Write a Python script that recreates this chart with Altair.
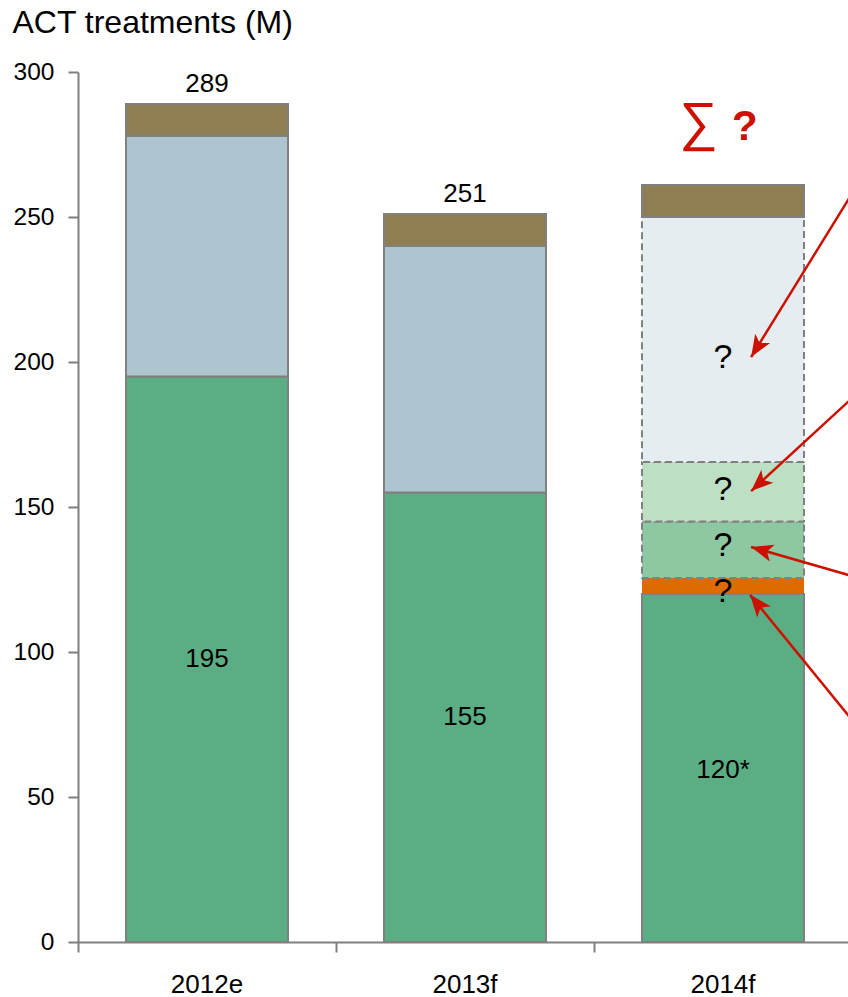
import math
import altair as alt
import pandas as pd

FONT = "Liberation Sans"
GRAY = "#808080"
RED = "#CC1100"

# ---- data ----
categories = ["2012e", "2013f", "2014f"]

seg_cat = ["2012e", "2012e", "2012e",
           "2013f", "2013f", "2013f",
           "2014f", "2014f", "2014f", "2014f", "2014f", "2014f"]
seg_bottom = [0, 195, 278,
              0, 155, 240,
              0, 120, 125.5, 145, 165.5, 250]
seg_top = [195, 278, 289,
           155, 240, 251,
           120, 125.5, 145, 165.5, 250, 261]
seg_color = ["#5BAE84", "#ADC5CE", "#8E7E52",
             "#5BAE84", "#ADC5CE", "#8E7E52",
             "#5BAE84", "#DD6B00", "#8DC8A3", "#BDE0C5", "#E5EDF1", "#8E7E52"]
seg_style = ["solid", "solid", "solid",
             "solid", "solid", "solid",
             "solid", "none", "dashed", "dashed", "dashed", "solid"]

inner_cat = ["2012e", "2013f", "2014f"]
inner_text = ["195", "155", "120*"]
inner_y = [97.5, 77.5, 59.3]

total_cat = ["2012e", "2013f"]
total_val = [289, 251]

q_y = [201.4, 155.9, 136.6, 120.7]

# arrows (x in category units, y in data units)
arrow_tip_x = [2.609, 2.609, 2.609, 2.605]
arrow_tip_y = [201.7, 155.5, 136.2, 119.7]
arrow_tail_x = [3.05, 3.05, 3.05, 3.05]
arrow_tail_y = [265.3, 191.6, 124.9, 71.1]

sum_x = [2.405, 2.585]
sum_y = [276.6, 276.6]

# ---- layout constants ----
PLOT_W = 770
RANGE_W = 774
PLOT_H = 870
PX_X = RANGE_W / 3.0
PX_Y = PLOT_H / 300.0

df_seg = pd.DataFrame(dict(cat=seg_cat, bottom=seg_bottom, top=seg_top,
                           color=seg_color, style=seg_style))
df_inner = pd.DataFrame(dict(cat=inner_cat, label=inner_text, ly=inner_y))
df_total = pd.DataFrame(dict(cat=total_cat, ly=total_val,
                             label=[str(v) for v in total_val]))
df_q = pd.DataFrame(dict(cat=["2014f"] * len(q_y), ly=q_y, label=["?"] * len(q_y)))

angles = []
for tx, ty, sx, sy in zip(arrow_tip_x, arrow_tip_y, arrow_tail_x, arrow_tail_y):
    dx = (tx - sx) * PX_X
    dy = -(ty - sy) * PX_Y
    a = math.degrees(math.atan2(dx, -dy)) % 360
    angles.append(a)
df_arrow = pd.DataFrame(dict(tip_x=arrow_tip_x, tip_y=arrow_tip_y,
                             tail_x=arrow_tail_x, tail_y=arrow_tail_y, ang=angles))
df_sum = pd.DataFrame(dict(sx=sum_x, sy=sum_y, t=["∑", "?"]))

yscale = alt.Scale(domain=[0, 300], nice=False)
yaxis = alt.Axis(values=list(range(0, 301, 50)), title="ACT treatments (M)",
                 titleAngle=0, titleAlign="left", titleBaseline="alphabetic",
                 titleX=-66, titleY=-40, titleFontSize=32, titleFontWeight="normal",
                 titleFont=FONT, titleColor="black",
                 labelFontSize=24.5, labelFont=FONT, labelColor="black", labelPadding=14,
                 tickSize=10, tickColor=GRAY, tickWidth=2,
                 domainColor=GRAY, domainWidth=2, grid=False)

xscale_band = alt.Scale(domain=categories, range=[0, RANGE_W],
                        paddingInner=0.372, paddingOuter=0.186)
xaxis_band = alt.Axis(title=None, orient="bottom", labelAngle=0, domain=False,
                      ticks=False, labelFontSize=26, labelFont=FONT,
                      labelColor="black", labelPadding=29, grid=False)
Xb = alt.X("cat:N", scale=xscale_band, axis=xaxis_band)

xscale_q = alt.Scale(domain=[0, 3], range=[0, RANGE_W], nice=False, zero=False)
xaxis_q = alt.Axis(title=None, orient="bottom", values=[0, 1, 2, 3], labels=False,
                   ticks=True, tickSize=10, tickColor=GRAY, tickWidth=2,
                   domain=True, domainColor=GRAY, domainWidth=2, grid=False)


def bars(style, **kw):
    return (alt.Chart(df_seg)
            .transform_filter(alt.datum.style == style)
            .mark_bar(**kw)
            .encode(x=Xb,
                    y=alt.Y("bottom:Q", scale=yscale, axis=yaxis),
                    y2="top:Q",
                    color=alt.Color("color:N", scale=None)))


bars_none = bars("none", strokeWidth=0)
bars_dash = bars("dashed", stroke=GRAY, strokeWidth=2, strokeDash=[7, 4])
bars_solid = bars("solid", stroke=GRAY, strokeWidth=2)


def texts(df, size=26, **kw):
    return (alt.Chart(df)
            .mark_text(font=FONT, fontSize=size, color="black", **kw)
            .encode(x=Xb,
                    y=alt.Y("ly:Q", scale=yscale, axis=yaxis),
                    text="label:N"))


t_inner = texts(df_inner, baseline="middle")
t_total = texts(df_total, baseline="alphabetic", dy=-12)
t_q = texts(df_q, size=34, baseline="middle")

inner = alt.layer(bars_none, bars_dash, bars_solid, t_inner, t_total, t_q)

arrow_lines = (alt.Chart(df_arrow)
               .mark_rule(color=RED, strokeWidth=2.5)
               .encode(x=alt.X("tail_x:Q", scale=xscale_q, axis=xaxis_q),
                       x2="tip_x:Q",
                       y=alt.Y("tail_y:Q", scale=yscale, axis=yaxis),
                       y2="tip_y:Q"))
arrow_heads = (alt.Chart(df_arrow)
               .mark_point(shape="M0,0 L0.8,2 L0,1.5 L-0.8,2 Z", filled=True,
                           size=484, color=RED, opacity=1, strokeWidth=0)
               .encode(x=alt.X("tip_x:Q", scale=xscale_q, axis=xaxis_q),
                       y=alt.Y("tip_y:Q", scale=yscale, axis=yaxis),
                       angle=alt.Angle("ang:Q", scale=None)))
sum_sigma = (alt.Chart(df_sum).transform_filter(alt.datum.t == "∑")
             .mark_text(font=FONT, fontSize=54, color=RED, baseline="alphabetic")
             .encode(x=alt.X("sx:Q", scale=xscale_q, axis=xaxis_q),
                     y=alt.Y("sy:Q", scale=yscale, axis=yaxis),
                     text="t:N"))
sum_q = (alt.Chart(df_sum).transform_filter(alt.datum.t == "?")
         .mark_text(font=FONT, fontSize=42, fontWeight="bold", color=RED,
                    baseline="alphabetic")
         .encode(x=alt.X("sx:Q", scale=xscale_q, axis=xaxis_q),
                 y=alt.Y("sy:Q", scale=yscale, axis=yaxis),
                 text="t:N"))

annot = alt.layer(arrow_lines, arrow_heads, sum_sigma, sum_q)

chart = (alt.layer(inner, annot)
         .resolve_scale(x="independent")
         .properties(width=PLOT_W, height=PLOT_H,
                     padding={"left": 78, "top": 72, "right": 0, "bottom": 55},
                     autosize=alt.AutoSizeParams(type="none"))
         .configure_view(stroke=None))

chart.save("out.html", embed_options={"renderer": "svg", "actions": False})
